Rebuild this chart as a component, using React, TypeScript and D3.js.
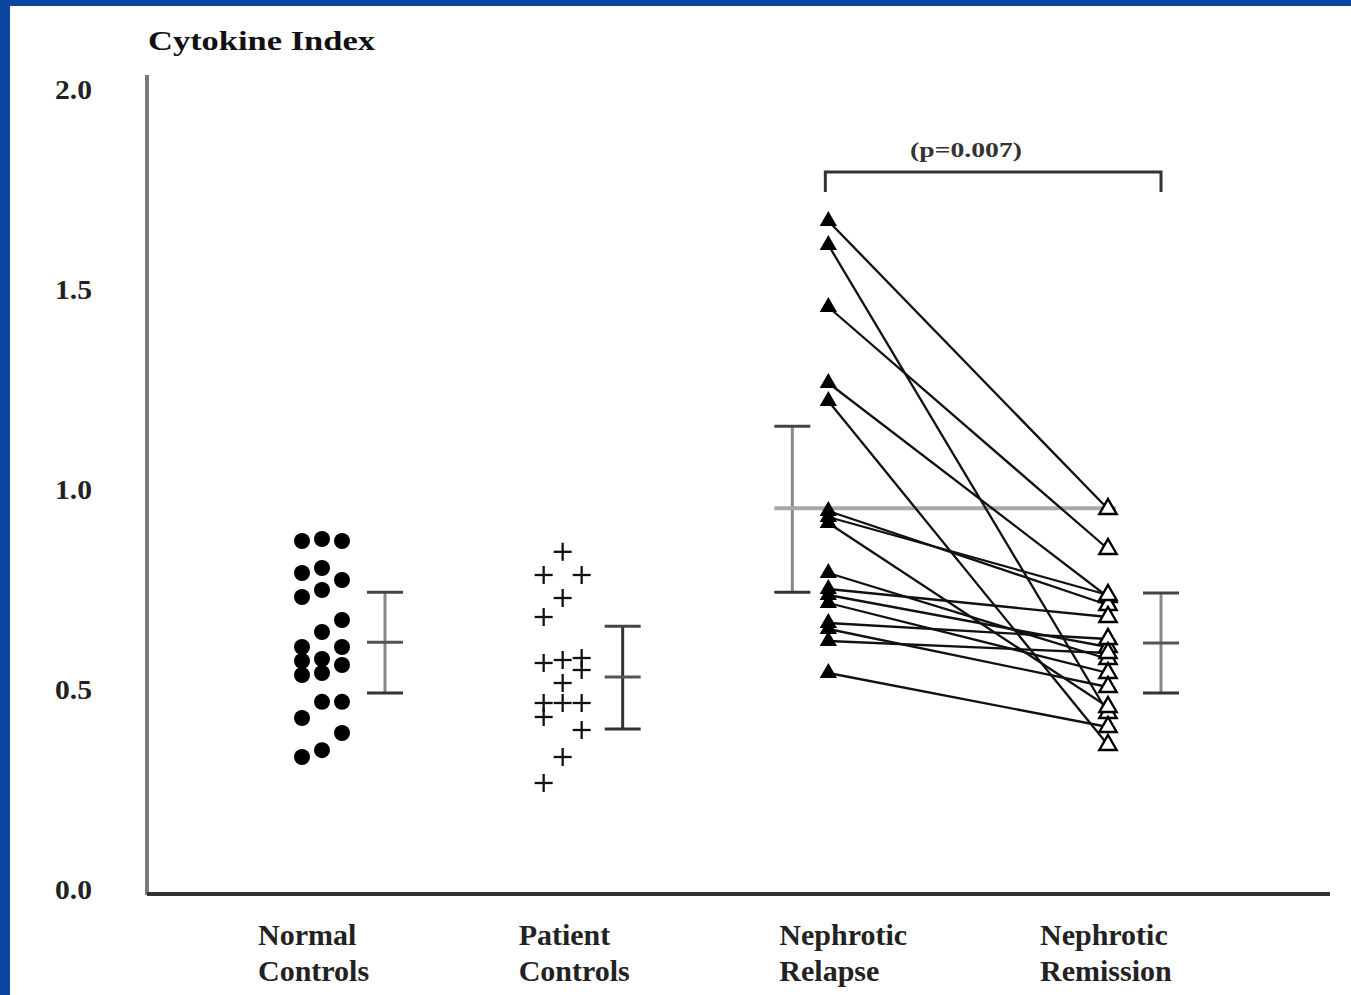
import React from 'react';
import * as d3 from 'd3';

// groups along the x axis (label lines)
const groups = ['Normal Controls', 'Patient Controls', 'Nephrotic Relapse', 'Nephrotic Remission'];
const groupLines = [['Normal', 'Controls'], ['Patient', 'Controls'], ['Nephrotic', 'Relapse'], ['Nephrotic', 'Remission']];

const yTicks = [0, 0.5, 1.0, 1.5, 2.0];

// normal controls: value, jitter column
const normalValues = [0.88, 0.885, 0.88, 0.80, 0.8125, 0.7825, 0.7575, 0.74, 0.6825, 0.6525, 0.615, 0.615, 0.585, 0.58, 0.57, 0.55, 0.545, 0.478, 0.478, 0.4375, 0.40, 0.357, 0.34];
const normalCols = [0, 1, 2, 0, 1, 2, 1, 0, 2, 1, 0, 2, 1, 0, 2, 1, 0, 1, 2, 0, 2, 1, 0];

// patient controls
const patientValues = [0.853, 0.795, 0.795, 0.7375, 0.69, 0.575, 0.5825, 0.5875, 0.5575, 0.525, 0.475, 0.475, 0.475, 0.44, 0.4075, 0.34, 0.275];
const patientCols = [1, 0, 2, 1, 0, 0, 1, 2, 2, 1, 0, 1, 2, 0, 2, 1, 0];

// paired relapse -> remission
const relapseValues = [1.68, 1.62, 1.465, 1.275, 1.23, 0.955, 0.94, 0.925, 0.80, 0.76, 0.745, 0.725, 0.675, 0.66, 0.63, 0.55];
const remissionValues = [0.96, 0.45, 0.86, 0.74, 0.37, 0.72, 0.745, 0.465, 0.585, 0.69, 0.615, 0.55, 0.635, 0.515, 0.60, 0.415];

// mean and spread per group
const means = [0.627, 0.54, 0.962, 0.625];
const lows = [0.50, 0.41, 0.752, 0.50];
const highs = [0.752, 0.667, 1.167, 0.75];

const pLabel = '(p=0.007)';

const W = 1351;
const H = 995;
const font = '"Liberation Serif", "DejaVu Serif", serif';

export default function App() {
  const y = d3.scaleLinear().domain([0, 2]).range([893, 93]);
  const x = d3.scalePoint<string>().domain(groups).range([313, 1095]);

  // mark and error bar offsets from each label centre
  const markShift = [9, -11, -6, 13];
  const barShift = [72, 49, -42, 66];
  const colStep = 20;

  const mx = (i: number) => (x(groups[i]) as number) + markShift[i];
  const bx = (i: number) => (x(groups[i]) as number) + barShift[i];

  const tri = d3.symbol(d3.symbolTriangle, 130)() as string;

  const relX = mx(2);
  const remX = mx(3);

  return (
    <svg width={W} height={H} style={{ position: 'absolute', left: 0, top: 0, display: 'block' }}>
      <rect width={W} height={H} fill="#0a46a0" />
      <rect x={10} y={6} width={W - 10} height={H - 6} fill="#fff" />

      {/* title */}
      <text x={148} y={50} fontFamily={font} fontWeight={700} fontSize={28} fill="#111"
        textLength={227} lengthAdjust="spacingAndGlyphs">Cytokine Index</text>

      {/* axes */}
      <line x1={147} x2={147} y1={75} y2={895} stroke="#7a7a7a" strokeWidth={4} />
      <line x1={147} x2={1330} y1={894} y2={894} stroke="#333" strokeWidth={4} />

      {yTicks.map(t => (
        <text key={t} x={92} y={y(t) - 3} dy="0.35em" textAnchor="end" fontFamily={font} fontWeight={700}
          fontSize={27} fill="#222" textLength={37} lengthAdjust="spacingAndGlyphs">{t.toFixed(1)}</text>
      ))}

      {groupLines.map((ls, i) => (
        <g key={i}>
          {ls.map((l, j) => (
            <text key={j} x={(x(groups[i]) as number) - 55} y={945 + j * 36} fontFamily={font} fontWeight={700}
              fontSize={30} fill="#222">{l}</text>
          ))}
        </g>
      ))}

      {/* error bars */}
      {means.map((m, i) => {
        const cx = bx(i);
        const isPatient = i === 1;
        return (
          <g key={i}>
            <line x1={cx} x2={cx} y1={y(lows[i])} y2={y(highs[i])} stroke={isPatient ? '#333' : '#888'} strokeWidth={3} />
            <line x1={cx - 18} x2={cx + 18} y1={y(highs[i])} y2={y(highs[i])} stroke="#444" strokeWidth={3} />
            <line x1={cx - 18} x2={cx + 18} y1={y(lows[i])} y2={y(lows[i])} stroke="#333" strokeWidth={3} />
            {i !== 2 && <line x1={cx - 18} x2={cx + 18} y1={y(m)} y2={y(m)} stroke="#555" strokeWidth={3} />}
          </g>
        );
      })}
      {/* relapse mean carried across */}
      <line x1={bx(2) - 18} x2={remX + 8} y1={y(means[2])} y2={y(means[2])} stroke="#a8a8a8" strokeWidth={4} />

      {/* bracket */}
      <path d={`M${relX - 3},${192} V${172} H${bx(3)} V${192}`} fill="none" stroke="#333" strokeWidth={3} />
      <text x={966} y={157} textAnchor="middle" fontFamily={font} fontWeight={700}
        fontSize={21} fill="#333" textLength={112} lengthAdjust="spacingAndGlyphs">{pLabel}</text>

      {/* normal controls */}
      {normalValues.map((v, i) => (
        <circle key={i} cx={mx(0) + (normalCols[i] - 1) * colStep} cy={y(v)} r={8} fill="#000" />
      ))}

      {/* patient controls */}
      {patientValues.map((v, i) => {
        const cx = mx(1) + (patientCols[i] - 1) * (colStep - 1);
        const cy = y(v);
        return (
          <g key={i} stroke="#111" strokeWidth={2.3}>
            <line x1={cx - 9} x2={cx + 9} y1={cy} y2={cy} />
            <line x1={cx} x2={cx} y1={cy - 9} y2={cy + 9} />
          </g>
        );
      })}

      {/* paired lines */}
      {relapseValues.map((v, i) => (
        <line key={i} x1={relX} y1={y(v)} x2={remX} y2={y(remissionValues[i])} stroke="#111" strokeWidth={2.3} />
      ))}
      {relapseValues.map((v, i) => (
        <path key={i} d={tri} transform={`translate(${relX},${y(v)})`} fill="#000" />
      ))}
      {remissionValues.map((v, i) => (
        <path key={i} d={tri} transform={`translate(${remX},${y(v)})`} fill="#fff" stroke="#000" strokeWidth={2.4} />
      ))}
    </svg>
  );
}
